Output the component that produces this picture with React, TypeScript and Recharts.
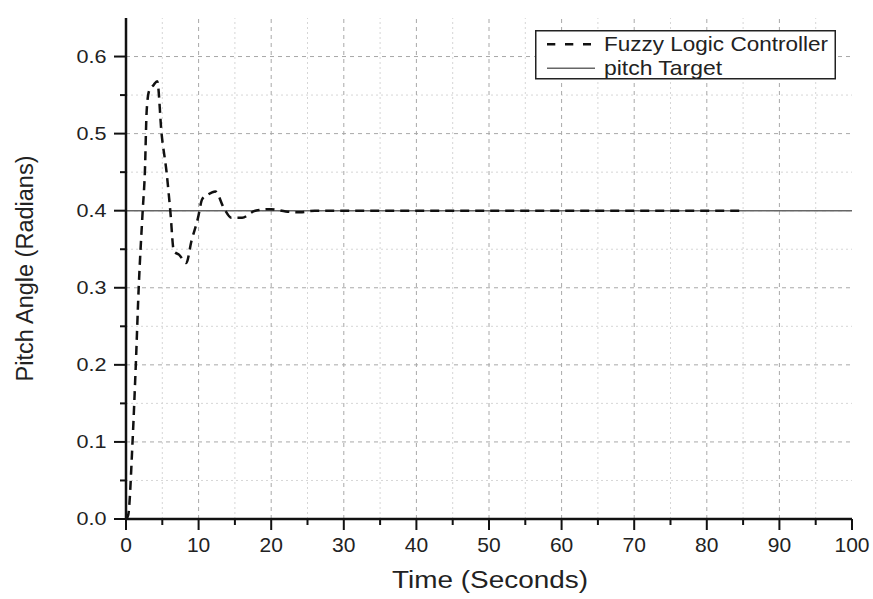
import { LineChart, Line, XAxis, YAxis, ReferenceLine } from 'recharts';

// time (s) and pitch response
const times = [0, 0.3, 0.9, 1.35, 1.75, 2.3, 2.6, 2.85, 3.2, 3.8, 4.3, 4.9, 5.6, 6.1, 6.6, 7.3, 8.3, 9.0, 9.9, 10.5, 11.3, 12.3, 13.5, 14.5, 16.0, 17.8, 20.0, 22.0, 24.0, 26.0, 30, 40, 50, 60, 70, 80, 85];
const fuzzy = [0, 0.005, 0.1, 0.2, 0.3, 0.4, 0.45, 0.53, 0.556, 0.563, 0.568, 0.5, 0.449, 0.4, 0.347, 0.343, 0.332, 0.36, 0.39, 0.415, 0.421, 0.425, 0.403, 0.391, 0.391, 0.4, 0.402, 0.399, 0.398, 0.4, 0.4, 0.4, 0.4, 0.4, 0.4, 0.4, 0.4];

const targetTimes = [0, 100];
const targetValues = [0.4, 0.4];

const xTicks = [0, 5, 10, 15, 20, 25, 30, 35, 40, 45, 50, 55, 60, 65, 70, 75, 80, 85, 90, 95, 100];
const yTicks = [0, 0.05, 0.1, 0.15, 0.2, 0.25, 0.3, 0.35, 0.4, 0.45, 0.5, 0.55, 0.6];

const fuzzyRows = times.map((t, i) => ({ t, fuzzy: fuzzy[i] }));
const targetRows = targetTimes.map((t, i) => ({ t, target: targetValues[i] }));

const FONT = '"Liberation Sans", Arial, sans-serif';
const INK = '#111';
const TEXT = '#222';

const isMajorX = (v: number) => v % 10 === 0;
const isMajorY = (v: number) => Math.round(v * 100) % 10 === 0;

const BottomTick = ({ x, y, payload }: any) => {
  const major = isMajorX(payload.value);
  return (
    <g>
      <line x1={x} x2={x} y1={y} y2={y + (major ? 11 : 6)} stroke={INK} strokeWidth={2} />
      {major && (
        <text x={x} y={y + 33} textAnchor="middle" fontSize={21} fontFamily={FONT} fill={TEXT}>
          {payload.value}
        </text>
      )}
    </g>
  );
};

const TopTick = ({ x, y, payload }: any) => {
  const major = isMajorX(payload.value);
  return <line x1={x} x2={x} y1={y} y2={y - (major ? 10 : 5)} stroke={INK} strokeWidth={2} />;
};

const LeftTick = ({ x, y, payload }: any) => {
  const major = isMajorY(payload.value);
  return (
    <g>
      <line x1={x} x2={x - (major ? 12 : 6)} y1={y} y2={y} stroke={INK} strokeWidth={2} />
      {major && (
        <text x={x - 49.5} y={y + 6} textAnchor="start" fontSize={17.5} fontFamily={FONT} fill={TEXT} textLength={30} lengthAdjust="spacingAndGlyphs">
          {payload.value.toFixed(1)}
        </text>
      )}
    </g>
  );
};

const RightTick = ({ x, y, payload }: any) => {
  const major = isMajorY(payload.value);
  return <line x1={x} x2={x + (major ? 12 : 6)} y1={y} y2={y} stroke={INK} strokeWidth={2} />;
};

export default function App() {
  return (
    <div style={{ position: 'absolute', left: 0, top: 0, width: 873, height: 599, background: '#fff' }}>
      <LineChart width={873} height={599} margin={{ top: 18, right: 21, left: 0, bottom: 0 }}>
        <XAxis
          dataKey="t"
          type="number"
          domain={[0, 100]}
          ticks={xTicks}
          interval={0}
          allowDataOverflow
          tickSize={0}
          tickMargin={0}
          tick={<BottomTick />}
          axisLine={{ stroke: INK, strokeWidth: 2.5 }}
          height={80}
          label={{
            content: ({ viewBox }: any) => (
              <text
                x={392}
                y={viewBox.y + 69}
                fontSize={23}
                fontFamily={FONT}
                fill={TEXT}
                textLength={196}
                lengthAdjust="spacingAndGlyphs"
              >
                Time (Seconds)
              </text>
            ),
          }}
        />
        <XAxis
          xAxisId="top"
          orientation="top"
          type="number"
          domain={[0, 100]}
          ticks={xTicks}
          interval={0}
          allowDataOverflow
          tickSize={0}
          tickMargin={0}
          tick={<TopTick />}
          axisLine={{ stroke: INK, strokeWidth: 2.5 }}
          height={0}
        />
        <YAxis
          type="number"
          domain={[0, 0.65]}
          ticks={yTicks}
          interval={0}
          allowDataOverflow
          tickSize={0}
          tickMargin={0}
          tick={<LeftTick />}
          axisLine={{ stroke: INK, strokeWidth: 2.5 }}
          width={126}
          label={{
            content: ({ viewBox }: any) => {
              const cx = 33;
              const cy = viewBox.y + viewBox.height / 2;
              return (
                <text x={cx} y={cy} transform={`rotate(-90 ${cx} ${cy})`} textAnchor="middle" fontSize={23.5} fontFamily={FONT} fill={TEXT}>
                  Pitch Angle (Radians)
                </text>
              );
            },
          }}
        />
        <YAxis
          yAxisId="right"
          orientation="right"
          type="number"
          domain={[0, 0.65]}
          ticks={yTicks}
          interval={0}
          allowDataOverflow
          tickSize={0}
          tickMargin={0}
          tick={<RightTick />}
          axisLine={{ stroke: INK, strokeWidth: 2.5 }}
          width={0}
        />

        {/* minor grid */}
        {xTicks.filter((v) => !isMajorX(v) && v > 0 && v < 100).map((v) => (
          <ReferenceLine key={'mx' + v} x={v} stroke="#d6d6d6" strokeDasharray="2 3" strokeWidth={1} />
        ))}
        {yTicks.filter((v) => !isMajorY(v)).map((v) => (
          <ReferenceLine key={'my' + v} y={v} stroke="#d6d6d6" strokeDasharray="2 3" strokeWidth={1} />
        ))}
        {/* major grid */}
        {xTicks.filter((v) => isMajorX(v) && v > 0 && v < 100).map((v) => (
          <ReferenceLine key={'Mx' + v} x={v} stroke="#a8a8a8" strokeDasharray="4 4" strokeWidth={1} />
        ))}
        {yTicks.filter((v) => isMajorY(v) && v > 0).map((v) => (
          <ReferenceLine key={'My' + v} y={v} stroke="#a8a8a8" strokeDasharray="4 4" strokeWidth={1} />
        ))}

        <Line data={targetRows} dataKey="target" type="linear" stroke="#666" strokeWidth={1.5} dot={false} isAnimationActive={false} />
        <Line data={fuzzyRows} dataKey="fuzzy" type="monotone" stroke={INK} strokeWidth={2.5} strokeDasharray="9 6" dot={false} isAnimationActive={false} />
      </LineChart>

      {/* legend box */}
      <svg width={301} height={50} style={{ position: 'absolute', left: 535, top: 30 }}>
        <rect x={0.75} y={0.75} width={299.5} height={48} fill="#fff" stroke="#222" strokeWidth={1.5} />
        <line x1={12} x2={56} y1={14.3} y2={14.3} stroke={INK} strokeWidth={2.5} strokeDasharray="8.3 9.7" />
        <text x={69} y={21} fontSize={21} fontFamily={FONT} fill={TEXT} textLength={224} lengthAdjust="spacingAndGlyphs">
          Fuzzy Logic Controller
        </text>
        <line x1={12} x2={60} y1={38.3} y2={38.3} stroke="#666" strokeWidth={1.5} />
        <text x={69} y={44.5} fontSize={21} fontFamily={FONT} fill={TEXT} textLength={118} lengthAdjust="spacingAndGlyphs">
          pitch Target
        </text>
      </svg>
    </div>
  );
}
